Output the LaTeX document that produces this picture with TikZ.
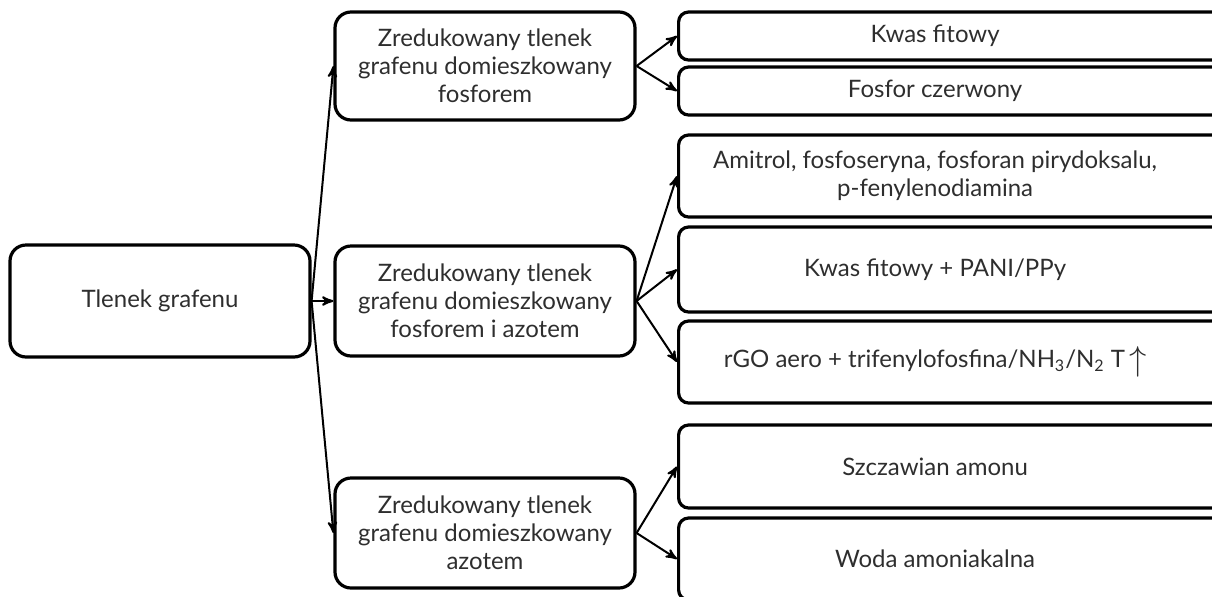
\documentclass[tikz,border=0pt]{standalone}
\usepackage{fontspec}
\setmainfont{Lato}
\usetikzlibrary{arrows,positioning}

\tikzset{
  box/.style={draw, line width=1.6pt, rounded corners=8pt, align=center, text=black!82,
    font=\fontsize{12}{14}\selectfont},
  midbox/.style={box, minimum width=150pt, minimum height=55pt},
  rbox/.style={box, rounded corners=5pt, anchor=west, minimum width=290pt},
  rtxt/.style={xshift=-16.75pt, align=center, text=black!82, font=\fontsize{12}{14}\selectfont},
  conn/.style={line width=1pt}
}

\begin{document}
\begin{tikzpicture}[x=0.5pt,y=-0.5pt,->,>=stealth']
    \useasboundingbox (0,0) rectangle (1212,596);

    % graphene oxide
    \node[box, minimum width=150pt, minimum height=56pt] (go) at (160,301) {Tlenek grafenu};

    % the three doped forms
    \node[midbox, minimum height=54pt] (p) at (485,66) {Zredukowany tlenek\\grafenu domieszkowany\\fosforem};
    \node[midbox] (pn) at (485,301) {Zredukowany tlenek\\grafenu domieszkowany\\fosforem i azotem};
    \node[midbox] (n) at (485,533) {Zredukowany tlenek\\grafenu domieszkowany\\azotem};

    % precursors
    \node[rbox, minimum height=24pt, label={[rtxt]center:Kwas fitowy}] (k1) at (677,36) {};
    \node[rbox, minimum height=24pt, label={[rtxt]center:Fosfor czerwony}] (k2) at (677,91) {};
    \node[rbox, minimum height=41pt, label={[rtxt]center:{Amitrol, fosfoseryna, fosforan pirydoksalu,\\p-fenylenodiamina}}] (a1) at (677,176) {};
    \node[rbox, minimum height=42.5pt, label={[rtxt]center:Kwas fitowy + PANI/PPy}] (a2) at (677,269.5) {};
    \node[rbox, minimum height=41pt, label={[rtxt]center:{rGO aero + trifenylofosfina/NH\textsubscript{3}/N\textsubscript{2} T\,\raisebox{-1.5pt}{\fontsize{17}{14}\selectfont$\uparrow$}}}] (a3) at (677,362) {};
    \node[rbox, minimum height=41.5pt, label={[rtxt]center:Szczawian amonu}] (s1) at (677,466.5) {};
    \node[rbox, minimum height=41pt, label={[rtxt]center:Woda amoniakalna}] (s2) at (677,559) {};

    % arrows from graphene oxide
    \foreach \t in {p, pn, n}{
        \draw[conn] (go.east) -- (\t.west);
    }

    % arrows to the precursors
    \foreach \s/\t in {p/k1, p/k2, pn/a1, pn/a2, pn/a3, n/s1, n/s2}{
        \draw[conn] (\s.east) -- (\t.west);
    }
\end{tikzpicture}
\end{document}
